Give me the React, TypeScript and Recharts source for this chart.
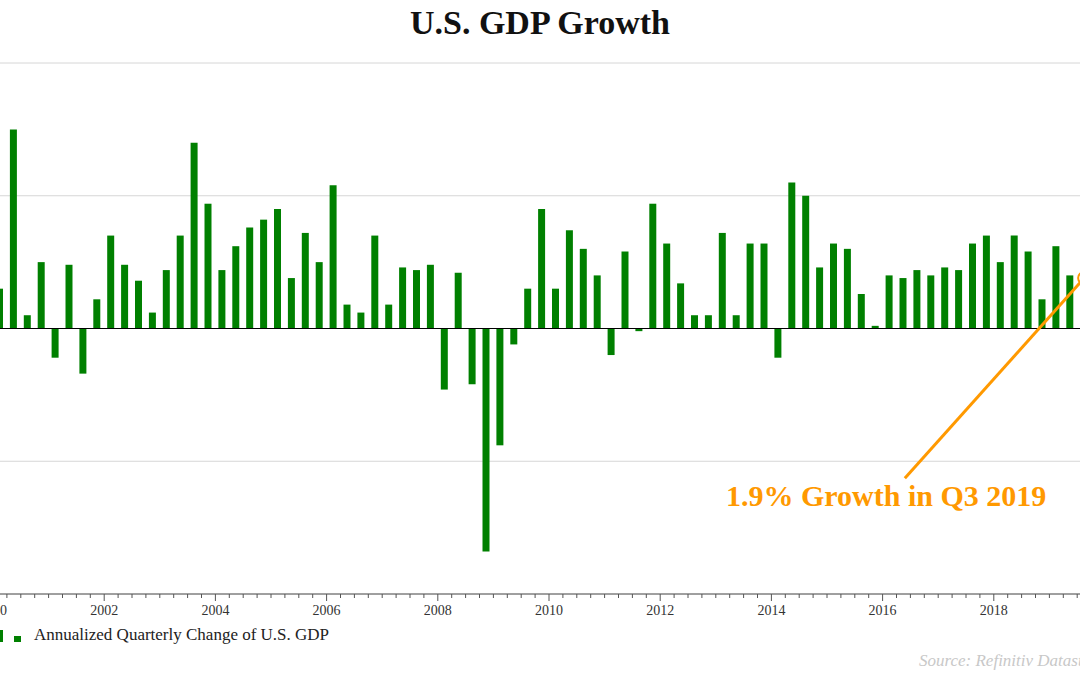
import React from "react";
import {
    BarChart,
    Bar,
    XAxis,
    YAxis,
    CartesianGrid,
    ReferenceLine,
    ReferenceDot,
} from "recharts";

// annualized quarterly change of real GDP, 2000 Q1 .. 2019 Q3
const firstYear = 2000;
const gdpGrowth = [
    1.5, 7.5, 0.5, 2.5, // 2000
    -1.1, 2.4, -1.7, 1.1, // 2001
    3.5, 2.4, 1.8, 0.6, // 2002
    2.2, 3.5, 7.0, 4.7, // 2003
    2.2, 3.1, 3.8, 4.1, // 2004
    4.5, 1.9, 3.6, 2.5, // 2005
    5.4, 0.9, 0.6, 3.5, // 2006
    0.9, 2.3, 2.2, 2.4, // 2007
    -2.3, 2.1, -2.1, -8.4, // 2008
    -4.4, -0.6, 1.5, 4.5, // 2009
    1.5, 3.7, 3.0, 2.0, // 2010
    -1.0, 2.9, -0.1, 4.7, // 2011
    3.2, 1.7, 0.5, 0.5, // 2012
    3.6, 0.5, 3.2, 3.2, // 2013
    -1.1, 5.5, 5.0, 2.3, // 2014
    3.2, 3.0, 1.3, 0.1, // 2015
    2.0, 1.9, 2.2, 2.0, // 2016
    2.3, 2.2, 3.2, 3.5, // 2017
    2.5, 3.5, 2.9, 1.1, // 2018
    3.1, 2.0, 1.9, // 2019
];
const yTicks = [-10, -5, 0, 5, 10];
const xDomain = [2000, 2020];
const quarterTicks = Array.from({ length: 81 }, (_, i) => firstYear + i / 4);

const callout = { from: { x: 2016.4, y: -5.64 }, to: { x: 2019.625, y: 1.9 } };
const calloutText = "1.9% Growth in Q3 2019";

const data = gdpGrowth.map((v, i) => ({ t: firstYear + i / 4 + 0.125, value: v }));

const SERIF = "'Liberation Serif', 'Times New Roman', serif";
const GREEN = "#008000";
const ORANGE = "#ff9900";

const AxisTick = (props: any) => {
    const { x, y, payload } = props;
    const v = payload.value;
    const whole = Math.abs(v - Math.round(v)) < 1e-6;
    const major = whole && Math.round(v) % 2 === 0;
    return (
        <g>
            <line x1={x} x2={x} y1={y} y2={y + (major ? 7 : 4)} stroke="#555" />
            {major && (
                <text x={x} y={y + 21} textAnchor="middle" fontSize={14} fill="#333" fontFamily={SERIF}>
                    {Math.round(v)}
                </text>
            )}
        </g>
    );
};

export default function App() {
    return (
        <div
            style={{
                position: "fixed",
                left: 0,
                top: 0,
                width: 1080,
                height: 675,
                overflow: "hidden",
                background: "#fff",
                fontFamily: SERIF,
            }}
        >
            <div
                style={{
                    position: "absolute",
                    left: 0,
                    width: 1080,
                    top: 6,
                    textAlign: "center",
                    fontSize: 34,
                    lineHeight: "34px",
                    fontWeight: "bold",
                    color: "#111",
                }}
            >
                U.S. GDP Growth
            </div>

            <div style={{ position: "absolute", left: -7, top: 0 }}>
                <BarChart width={1112} height={675} data={data} margin={{ top: 63, right: 0, left: 0, bottom: 51 }}>
                    <CartesianGrid vertical={false} stroke="#d6d6d6" />
                    <XAxis
                        dataKey="t"
                        type="number"
                        domain={xDomain}
                        ticks={quarterTicks}
                        interval={0}
                        minTickGap={0}
                        tickSize={0}
                        tickMargin={0}
                        tickLine={false}
                        tick={<AxisTick />}
                        axisLine={{ stroke: "#555" }}
                        height={30}
                    />
                    <YAxis hide domain={[-10, 10]} ticks={yTicks} />
                    <ReferenceLine y={0} stroke="#000" />
                    <Bar dataKey="value" fill={GREEN} barSize={7} isAnimationActive={false} />
                    <ReferenceLine
                        segment={[callout.from, callout.to]}
                        stroke={ORANGE}
                        strokeWidth={3}
                    />
                    <ReferenceDot
                        x={callout.to.x}
                        y={callout.to.y}
                        r={6}
                        fill="#fff"
                        stroke={ORANGE}
                        strokeWidth={2}
                    />
                </BarChart>
            </div>

            <div
                style={{
                    position: "absolute",
                    left: 726,
                    width: 320,
                    top: 481,
                    textAlign: "center",
                    fontSize: 30,
                    lineHeight: "30px",
                    fontWeight: "bold",
                    color: ORANGE,
                    whiteSpace: "nowrap",
                }}
            >
                {calloutText}
            </div>

            {/* legend */}
            <div style={{ position: "absolute", left: -4, top: 630, width: 7, height: 12, background: GREEN }} />
            <div style={{ position: "absolute", left: 14, top: 636, width: 7, height: 6, background: GREEN }} />
            <div
                style={{
                    position: "absolute",
                    left: 34,
                    top: 626,
                    fontSize: 17,
                    lineHeight: "17px",
                    color: "#222",
                    whiteSpace: "nowrap",
                }}
            >
                Annualized Quarterly Change of U.S. GDP
            </div>

            <div
                style={{
                    position: "absolute",
                    left: 919,
                    top: 652,
                    fontSize: 17,
                    lineHeight: "17px",
                    fontStyle: "italic",
                    color: "#c8c8c8",
                    whiteSpace: "nowrap",
                }}
            >
                Source: Refinitiv Datastream
            </div>
        </div>
    );
}
